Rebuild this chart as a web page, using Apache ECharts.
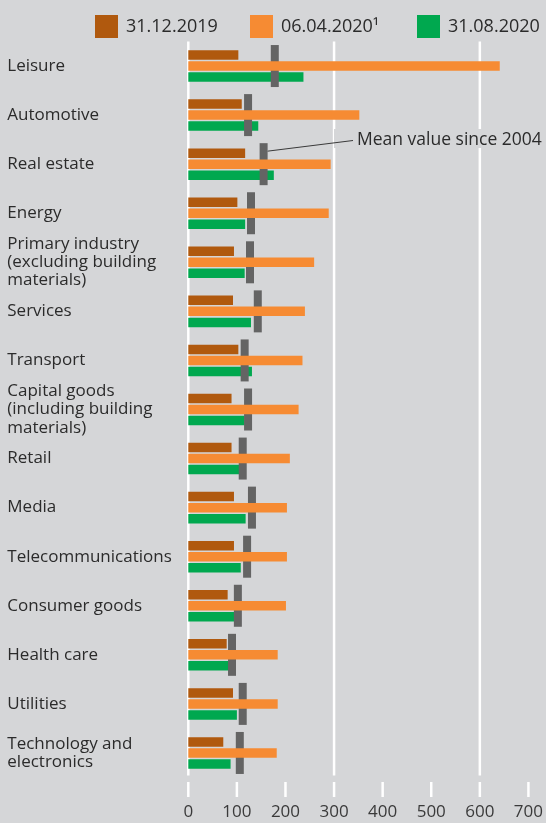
<!DOCTYPE html>
<html>
<head>
<meta charset="utf-8">
<script src="https://cdn.jsdelivr.net/npm/echarts@6/dist/echarts.min.js"></script>
<style>
html,body{margin:0;padding:0;background:#d5d6d8;}
#c{width:546px;height:823px;}
</style>
</head>
<body>
<div id="c"></div>
<script>
const categories = ['Leisure','Automotive','Real estate','Energy','Primary industry\n(excluding building\nmaterials)','Services','Transport','Capital goods\n(including building\nmaterials)','Retail','Media','Telecommunications','Consumer goods','Health care','Utilities','Technology and\nelectronics'];
const seriesNames = ['31.12.2019','06.04.2020\u00B9','31.08.2020'];
const dec2019 = [103,110,117,101,94,92,103,89,89,94,94,81,79,92,72];
const apr2020 = [641,352,293,289,259,240,235,227,209,203,203,201,184,184,182];
const aug2020 = [237,144,176,117,116,129,131,116,108,118,108,96,92,100,87];
const meanSince2004 = [178,123,155,129,127,143,116,123,112,131,121,102,90,112,106];
const xTicks = [0,100,200,300,400,500,600,700];
const gridLineValues = [0,300,600];
const annotationText = 'Mean value since 2004';
const annotationIndex = 2;

const FONT = '"Open Sans", "Noto Sans", sans-serif';
const TXT = '#2b2b2b';
const BG = '#d5d6d8';
const colors = ['#b0590e','#f68b33','#00a84f'];

const chart = echarts.init(document.getElementById('c'), null, {renderer:'canvas'});
const barCommon = {type:'bar', barWidth:9.5, barGap:'16%', animation:false, silent:true};
const legendLefts = [90, 245, 412];
chart.setOption({
  backgroundColor: BG,
  animation:false,
  textStyle:{fontFamily:FONT},
  legend: seriesNames.map((n,i)=>({
    data:[n], left:legendLefts[i], top:10, itemWidth:23, itemHeight:23, icon:'rect',
    selectedMode:false, itemGap:0,
    textStyle:{fontFamily:FONT, fontSize:18, color:TXT, padding:[0,0,0,3]}
  })),
  grid:{left:188.3, right:546-529.4, top:41.5, bottom:823-777.5, containLabel:false},
  xAxis:{type:'value', min:xTicks[0], max:xTicks[xTicks.length-1], interval:100, position:'bottom', offset:4,
     axisLine:{show:false}, axisTick:{show:false},
     splitLine:{show:false},
     axisLabel:{fontFamily:FONT, fontSize:17, color:'#3a3a3a', margin:22}},
  yAxis:{type:'category', data:categories, inverse:true,
    axisLine:{show:false}, axisTick:{show:false}, splitLine:{show:false},
    axisLabel:{align:'left', margin:181, fontFamily:FONT, fontSize:17, lineHeight:18.3, color:TXT}},
  series:[
    {type:'custom', name:'axisMarks', data:xTicks.map(v=>[v]), encode:{x:0}, clip:false, z:1, silent:true, animation:false,
     renderItem:function(params, api){
       const v = api.value(0);
       const cs = params.coordSys;
       const x = api.coord([v, categories[0]])[0];
       const children = [
         {type:'line', shape:{x1:x, y1:cs.y+cs.height+4.5, x2:x, y2:cs.y+cs.height+19.5}, style:{stroke:'#ffffff', lineWidth:2.5}}
       ];
       if (gridLineValues.indexOf(v) >= 0) {
         children.push({type:'line', shape:{x1:x, y1:cs.y, x2:x, y2:cs.y+cs.height-2}, style:{stroke:'#ffffff', lineWidth:2.5}});
       }
       return {type:'group', children:children};
     }},
    Object.assign({}, barCommon, {name:seriesNames[0], data:dec2019, z:2, itemStyle:{color:colors[0]}}),
    Object.assign({}, barCommon, {name:seriesNames[1], data:apr2020, z:4, itemStyle:{color:colors[1]}}),
    Object.assign({}, barCommon, {name:seriesNames[2], data:aug2020, z:2, itemStyle:{color:colors[2]}}),
    {type:'scatter', name:'mean', data:meanSince2004.map((v,i)=>[v, categories[i]]), symbol:'rect', symbolSize:[8,42],
     itemStyle:{color:'#646464', opacity:1}, z:3, silent:true, animation:false}
  ]
});

const p = chart.convertToPixel({xAxisIndex:0, yAxisIndex:0}, [meanSince2004[annotationIndex], categories[annotationIndex]]);
const tx = 357, ty = 140.5;
chart.setOption({
  graphic:[
    {type:'rect', shape:{x:334, y:129, width:212, height:19}, style:{fill:BG}, z:10, silent:true},
    {type:'line', shape:{x1:p[0]+4, y1:p[1]-13, x2:tx-4, y2:ty}, style:{stroke:'#3a3a3a', lineWidth:1}, z:11, silent:true},
    {type:'text', x:tx, y:ty, style:{text:annotationText, font:'17.5px '+FONT, fill:TXT, verticalAlign:'middle'}, z:11, silent:true}
  ]
});
</script>
</body>
</html>
